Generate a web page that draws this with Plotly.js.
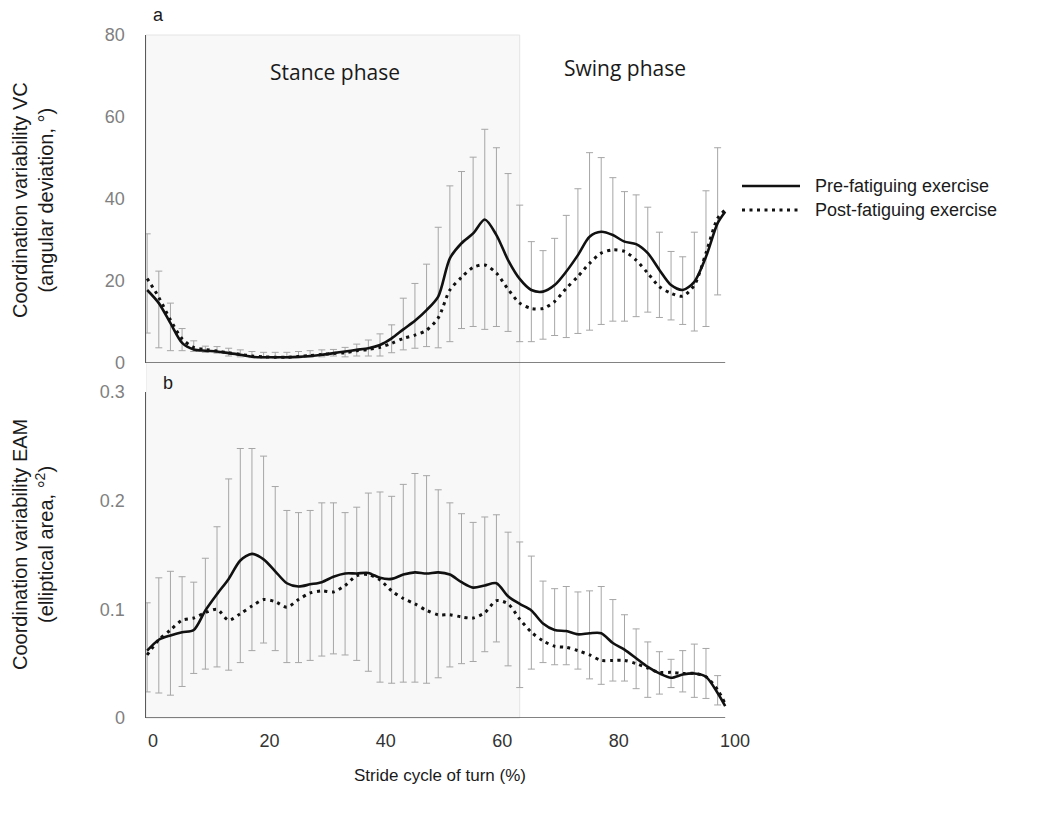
<!DOCTYPE html>
<html>
<head>
<meta charset="utf-8">
<script src="https://cdn.plot.ly/plotly-3.0.1.min.js"></script>
<style>html,body{margin:0;padding:0;background:#fff;}#chart{width:1038px;height:814px;}</style>
</head>
<body>
<div id="chart"></div>
<script>
// Stride cycle positions (%) of the error bars / samples
const stride = [-1,1,3,5,7,9,11,13,15,17,19,21,23,25,27,29,31,33,35,37,39,41,43,45,47,49,51,53,55,57,59,61,63,65,67,69,71,73,75,77,79,81,83,85,87,89,91,93,95,97];
// line samples (same positions plus the last sample of the cycle)
const strideLine = [-1,1,3,5,7,9,11,13,15,17,19,21,23,25,27,29,31,33,35,37,39,41,43,45,47,49,51,53,55,57,59,61,63,65,67,69,71,73,75,77,79,81,83,85,87,89,91,93,95,97,98.3];

// Panel a: vector coding (angular deviation, °)
const vcPre  = [17.8,14.6,9.7,4.9,3.3,3.0,2.8,2.4,2.0,1.5,1.4,1.4,1.4,1.5,1.7,2.0,2.4,2.8,3.2,3.6,4.4,6.0,8.2,10.3,12.9,16.2,25.5,29.2,31.6,35.0,31.2,25.1,20.5,17.8,17.4,19.0,22.3,26.3,30.8,32.0,31.2,29.6,29.0,26.8,22.7,19.0,17.8,19.8,25.9,34.1,36.9];
const vcPost = [20.6,16.0,10.5,5.9,3.8,3.3,2.9,2.5,2.1,1.7,1.5,1.4,1.4,1.6,1.8,2.1,2.3,2.5,3.0,3.3,3.8,4.8,6.0,6.8,8.0,11.0,17.8,20.9,23.3,23.9,21.9,18.0,14.6,13.3,13.3,15.0,18.2,21.1,24.3,26.8,27.6,27.2,25.1,21.9,18.6,17.0,16.3,19.0,26.8,35.3,37.3];
const vcHi   = [31.5,22.4,14.6,8.4,5.4,4.1,4.0,3.6,3.2,2.8,2.6,2.6,2.6,2.8,3.0,3.2,3.3,3.8,4.6,5.6,7.1,9.3,15.8,19.4,24.1,33.1,43.2,46.7,50.2,57.0,52.5,46.2,38.5,29.6,27.4,30.4,36.0,42.5,51.3,50.1,45.2,41.8,41.0,38.0,31.9,27.2,25.9,31.9,42.0,52.5];
const vcLo   = [7.3,3.7,3.0,3.0,2.8,2.6,2.4,1.7,1.5,1.3,1.2,1.2,1.2,1.3,1.4,1.5,1.7,1.5,1.7,1.7,1.7,2.5,3.2,3.6,4.0,3.7,5.2,8.4,8.9,8.2,8.9,7.7,5.2,5.2,5.8,6.7,6.2,7.2,8.0,9.4,10.2,10.2,11.3,12.4,11.1,10.5,9.4,7.8,8.9,16.6];

// Panel b: elliptical area method (°²)
const eamPre  = [0.062,0.072,0.076,0.079,0.081,0.099,0.114,0.128,0.145,0.151,0.146,0.135,0.124,0.121,0.123,0.125,0.130,0.133,0.133,0.1335,0.129,0.128,0.132,0.134,0.133,0.134,0.132,0.125,0.120,0.122,0.124,0.112,0.105,0.099,0.087,0.081,0.080,0.077,0.078,0.078,0.069,0.063,0.055,0.047,0.041,0.037,0.040,0.041,0.038,0.023,0.011];
const eamPost = [0.058,0.072,0.081,0.090,0.092,0.097,0.100,0.090,0.096,0.103,0.109,0.107,0.102,0.109,0.115,0.117,0.116,0.122,0.131,0.132,0.127,0.117,0.110,0.105,0.099,0.095,0.095,0.093,0.092,0.097,0.108,0.105,0.091,0.079,0.071,0.066,0.065,0.062,0.058,0.053,0.053,0.053,0.050,0.046,0.042,0.042,0.041,0.041,0.038,0.026,0.013];
const eamHi   = [0.106,0.129,0.135,0.130,0.125,0.147,0.176,0.220,0.248,0.248,0.241,0.213,0.191,0.189,0.191,0.198,0.198,0.189,0.194,0.207,0.208,0.204,0.215,0.225,0.223,0.210,0.198,0.188,0.180,0.185,0.187,0.171,0.162,0.149,0.126,0.119,0.121,0.116,0.117,0.121,0.109,0.095,0.082,0.070,0.061,0.054,0.062,0.068,0.064,0.039];
const eamLo   = [0.024,0.023,0.021,0.029,0.041,0.045,0.047,0.044,0.051,0.062,0.069,0.062,0.051,0.051,0.053,0.057,0.059,0.058,0.053,0.043,0.033,0.032,0.033,0.033,0.032,0.037,0.047,0.050,0.052,0.061,0.070,0.048,0.028,0.045,0.051,0.049,0.049,0.045,0.036,0.031,0.034,0.034,0.027,0.019,0.022,0.028,0.024,0.019,0.018,0.012];

const stanceEnd = 63;
const seriesNames = ['Pre-fatiguing exercise', 'Post-fatiguing exercise'];
const xTicks = [0,20,40,60,80,100];

const FONT = 'Liberation Sans, Arial, sans-serif';
const DOTS = '3px,4.5px';

function errTrace(lo, hi, xa, ya) {
  return {
    x: stride, y: lo, xaxis: xa, yaxis: ya, type: 'scatter', mode: 'markers',
    marker: {size: 1, color: 'rgba(0,0,0,0)'}, showlegend: false, hoverinfo: 'skip',
    error_y: {type: 'data', symmetric: false, array: hi.map((h, i) => h - lo[i]),
      arrayminus: lo.map(() => 0), color: '#a6a6a6', thickness: 1, width: 3.5}
  };
}
function lineTrace(y, name, xa, ya, dotted) {
  return {
    x: strideLine, y: y, xaxis: xa, yaxis: ya, type: 'scatter', mode: 'lines', name: name,
    showlegend: false,
    line: {color: '#111111', width: dotted ? 3 : 2.6, shape: 'spline', smoothing: 0.8, dash: dotted ? DOTS : 'solid'}
  };
}

const data = [
  errTrace(vcLo, vcHi, 'x2', 'y2'),
  errTrace(eamLo, eamHi, 'x', 'y'),
  lineTrace(vcPre, seriesNames[0], 'x2', 'y2', false),
  lineTrace(vcPost, seriesNames[1], 'x2', 'y2', true),
  lineTrace(eamPre, seriesNames[0], 'x', 'y', false),
  lineTrace(eamPost, seriesNames[1], 'x', 'y', true)
];

const W = 592, H = 683, L = 146, T = 35;
const px = v => (v - L) / W;          // pixel x -> paper
const py = v => (T + H - v) / H;       // pixel y -> paper

function note(text, x, y, size, extra) {
  return Object.assign({text: text, xref: 'paper', yref: 'paper', x: px(x), y: py(y),
    xanchor: 'center', yanchor: 'middle', showarrow: false,
    font: {family: FONT, size: size, color: '#1a1a1a'}}, extra || {});
}

const layout = {
  width: 1038, height: 814,
  margin: {l: 146, r: 300, t: 35, b: 96},
  paper_bgcolor: '#ffffff', plot_bgcolor: 'rgba(0,0,0,0)',
  font: {family: FONT, color: '#262626'},
  showlegend: false,
  xaxis: {domain: [0, 1], range: [-1.2, 100.5], anchor: 'y', tickvals: xTicks,
    showline: false, showgrid: false, zeroline: false, ticks: '', ticklabelstandoff: 10,
    tickfont: {family: FONT, size: 18, color: '#333333'}},
  xaxis2: {domain: [0, 1], range: [-1.2, 100.5], anchor: 'y2', matches: 'x',
    showticklabels: false, showline: false, showgrid: false, zeroline: false, ticks: ''},
  yaxis: {domain: [0, 0.4773], range: [0, 0.3], tickvals: [0, 0.1, 0.2, 0.3], ticktext: ['0', '0.1', '0.2', '0.3'],
    showline: true, linecolor: '#595959', linewidth: 1.5, showgrid: false, zeroline: false, ticks: '',
    ticklabelstandoff: 16, tickfont: {family: FONT, size: 18, color: '#808080'}},
  yaxis2: {domain: [0.5198, 1], range: [0, 80], tickvals: [0, 20, 40, 60, 80],
    showline: true, linecolor: '#595959', linewidth: 1.5, showgrid: false, zeroline: false, ticks: '',
    ticklabelstandoff: 16, tickfont: {family: FONT, size: 18, color: '#808080'}},
  shapes: [
    {type: 'rect', layer: 'below', xref: 'x', yref: 'paper', x0: -1.2, x1: stanceEnd, y0: 0, y1: 1,
      fillcolor: '#f8f8f8', line: {color: '#e4e4e4', width: 1}},
    {type: 'line', xref: 'x', yref: 'y2', x0: -1.2, x1: 98.3, y0: 0, y1: 0, line: {color: '#595959', width: 1.5}},
    {type: 'line', xref: 'x', yref: 'y', x0: -1.2, x1: 98.3, y0: 0, y1: 0, line: {color: '#595959', width: 1.5}},
    {type: 'line', xref: 'paper', yref: 'paper', x0: px(742), x1: px(800), y0: py(186), y1: py(186), line: {color: '#111111', width: 2.6}},
    {type: 'line', xref: 'paper', yref: 'paper', x0: px(742), x1: px(800), y0: py(210), y1: py(210), line: {color: '#111111', width: 3, dash: DOTS}}
  ],
  annotations: [
    note('a', 158, 15, 18),
    note('b', 168, 383, 18),
    note('Stance phase', 335, 72, 21, {font: {family: 'Open Sans, sans-serif', size: 21, color: '#1a1a1a'}}),
    note('Swing phase', 625, 68, 21, {font: {family: 'Open Sans, sans-serif', size: 21, color: '#1a1a1a'}}),
    note('Coordination variability VC<br>(angular deviation, °)', 33, 200, 20, {textangle: -90}),
    note('Coordination variability EAM<br>(elliptical area, °<sup>2</sup>)', 33, 545, 20, {textangle: -90}),
    note('Stride cycle of turn (%)', 440, 775, 17),
    note(seriesNames[0], 813, 186, 18, {xanchor: 'left'}),
    note(seriesNames[1], 813, 210, 18, {xanchor: 'left'})
  ]
};

Plotly.newPlot('chart', data, layout, {displayModeBar: false, staticPlot: true});
</script>
</body>
</html>
